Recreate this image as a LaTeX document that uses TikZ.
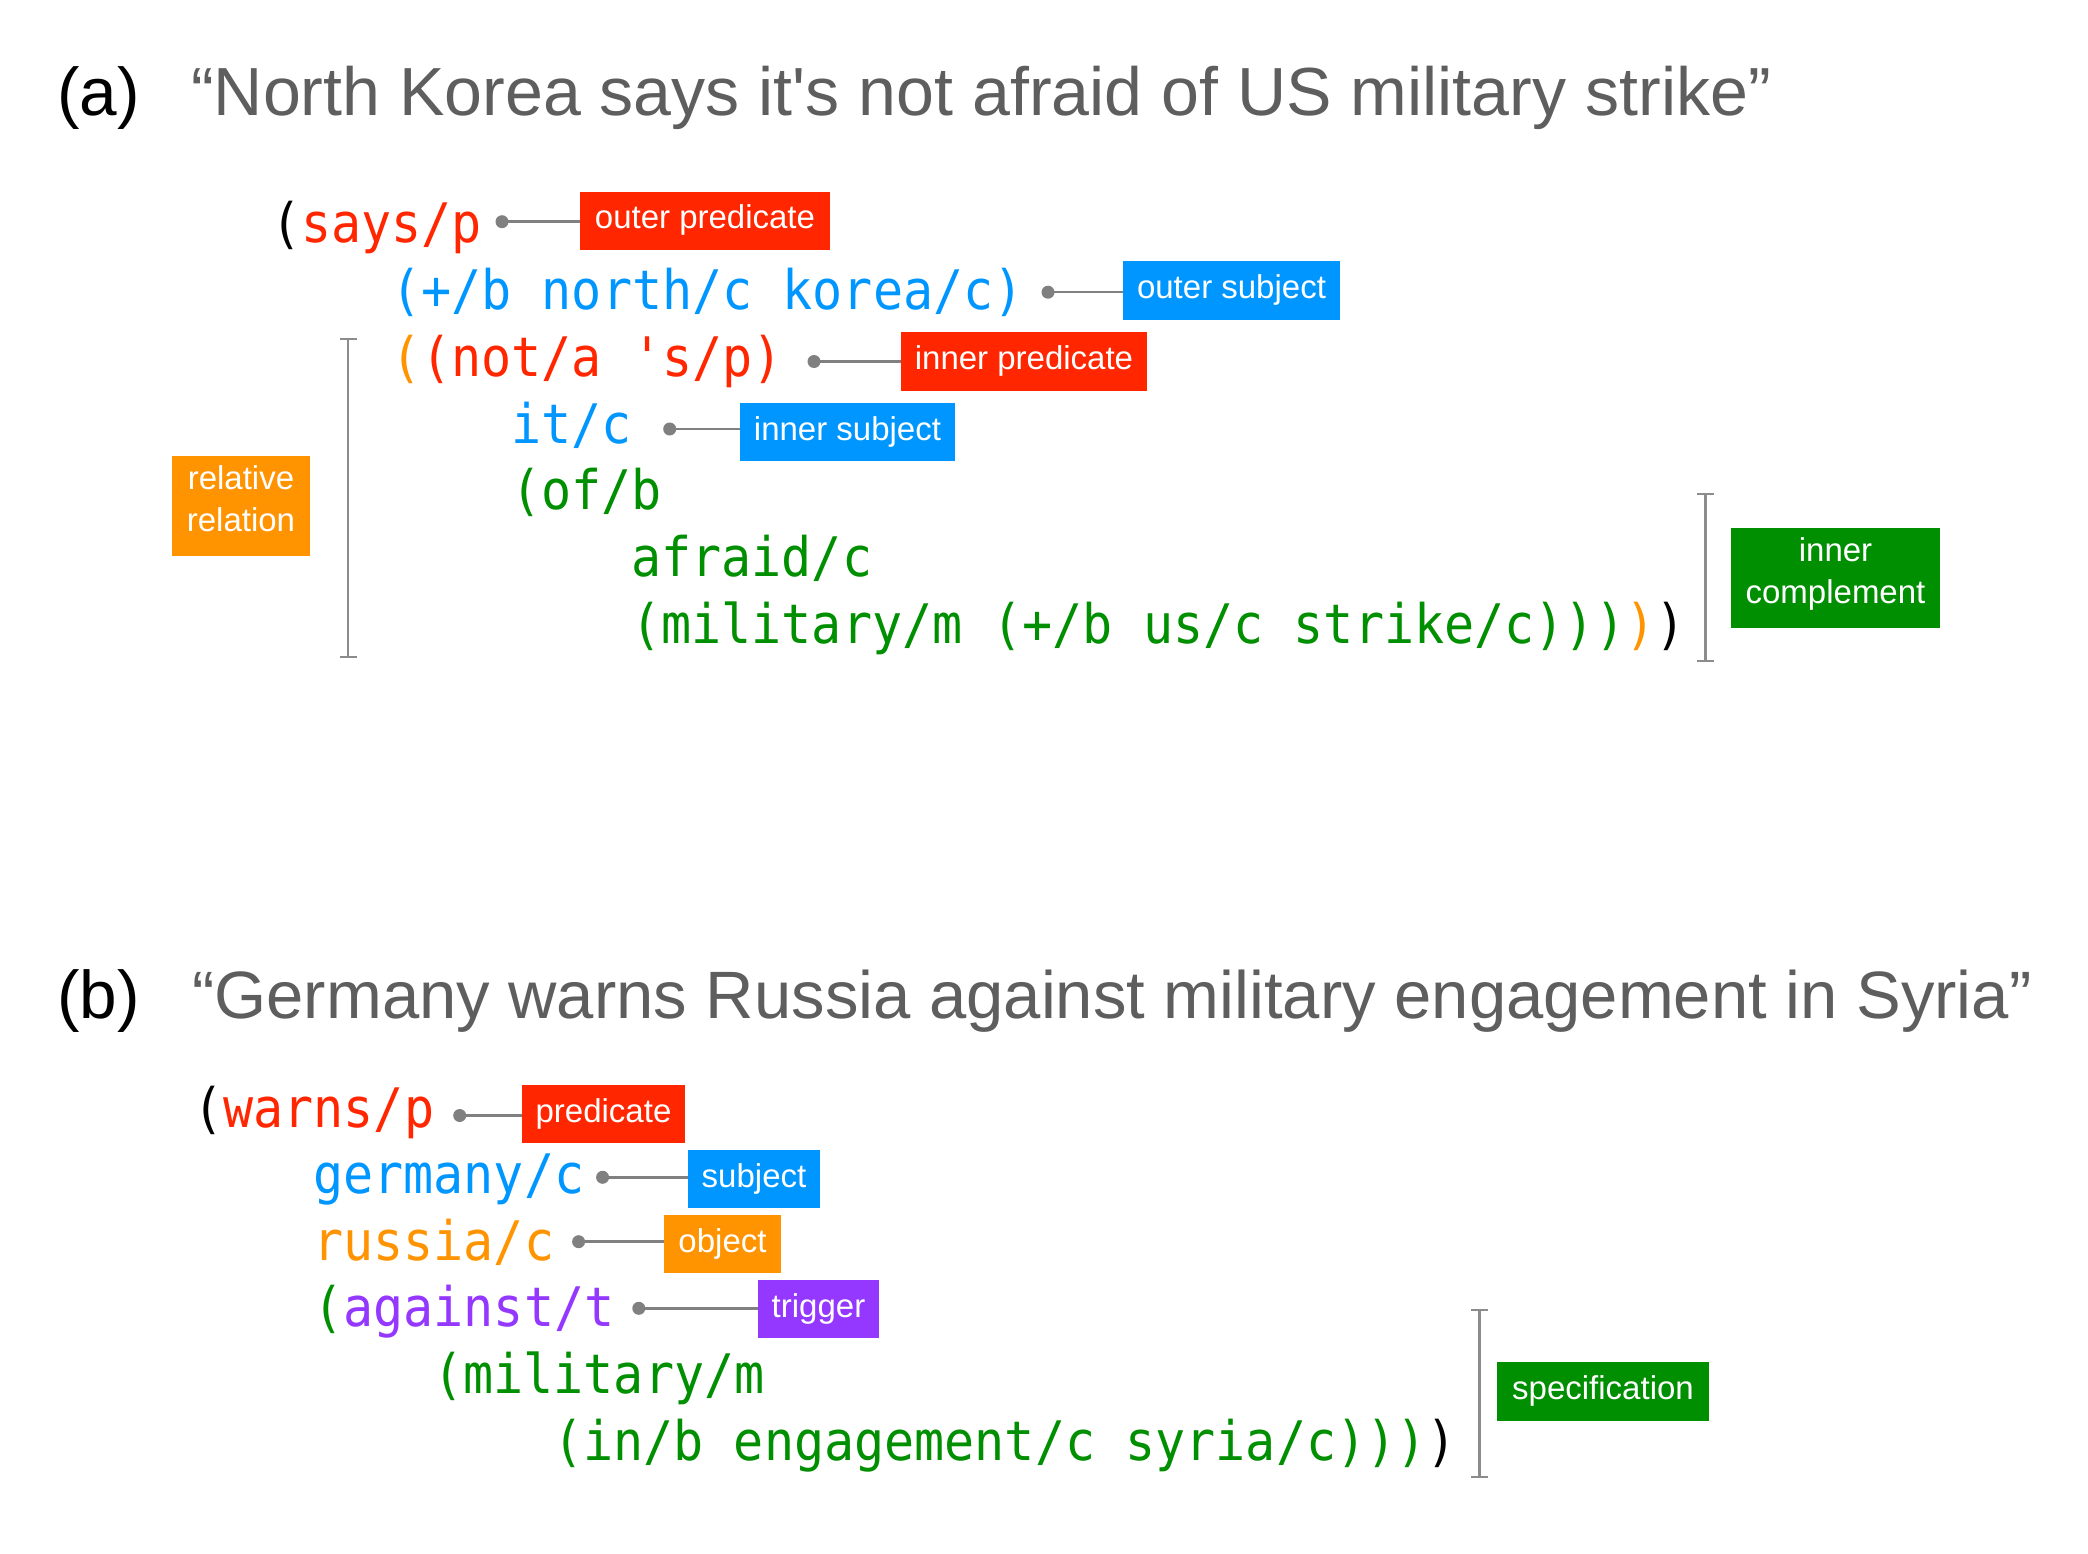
\documentclass[tikz,border=0pt]{standalone}
\usepackage{fontspec}
\newfontfamily\hel{Liberation Sans}
\newfontfamily\codefont[FakeStretch=0.918]{DejaVu Sans Mono}
\definecolor{kred}{HTML}{FF2600}
\definecolor{kblue}{HTML}{0096FF}
\definecolor{korange}{HTML}{FF9300}
\definecolor{kgreen}{HTML}{008F00}
\definecolor{kpurple}{HTML}{9437FF}
\definecolor{ktitle}{HTML}{5E5E5E}
\definecolor{kgray}{HTML}{808080}
\definecolor{kbrk}{HTML}{8C8C8C}
\begin{document}
\begin{tikzpicture}[x=1pt,y=-1pt,
  code/.style={anchor=base west, inner sep=0pt, font=\codefont\fontsize{54.5}{60}\selectfont},
  title/.style={anchor=base west, inner sep=0pt, font=\hel\fontsize{67.5}{80}\selectfont, text=ktitle},
  lbox/.style={inner sep=0pt, text=white, font=\hel\fontsize{33}{41.7}\selectfont, text height=24pt, text depth=8pt},
  ltext/.style={inner sep=0pt, text=white, align=center, font=\hel\fontsize{33}{41.7}\selectfont},
  conn/.style={draw=kgray, line width=2.5pt},
  brk/.style={draw=kbrk, line width=2.5pt}]
\useasboundingbox (0,0) rectangle (2088,1554);
\fill[white] (0,0) rectangle (2088,1554);

% titles
\node[title, text=black] (la) at (57,116) {(a)};
\node[title, font=\hel\fontsize{68.1}{80}\selectfont] (ta) at (191,116) {“North Korea says it's not afraid of US military strike”};
\node[title, text=black] (lb) at (57,1018) {(b)};
\node[title, font=\hel\fontsize{67}{80}\selectfont] (tb) at (192,1018) {“Germany warns Russia against military engagement in Syria”};

% code (a)
\node[code] (a1) at (271,242.7) {(\textcolor{kred}{says/p}};
\node[code, text=kblue] (a2) at (391,309.5) {(+/b north/c korea/c)};
\node[code] (a3) at (391,376.3) {\textcolor{korange}{(}\textcolor{kred}{(not/a 's/p)}};
\node[code, text=kblue] (a4) at (511,443.1) {it/c};
\node[code, text=kgreen] (a5) at (511,509.9) {(of/b};
\node[code, text=kgreen] (a6) at (631,576.7) {afraid/c};
\node[code] (a7) at (631,643.5) {\textcolor{kgreen}{(military/m (+/b us/c strike/c)))}\textcolor{korange}{)})};

% labels (a)
\node[lbox, fill=kred, minimum width=250pt, minimum height=58pt] (op) at (705,221) {outer predicate};
\node[lbox, fill=kblue, minimum width=217pt, minimum height=59pt] (os) at (1231.5,290.5) {outer subject};
\node[lbox, fill=kred, minimum width=246pt, minimum height=59pt] (ip) at (1024,361.5) {inner predicate};
\node[lbox, fill=kblue, minimum width=215pt, minimum height=58pt] (is) at (847.5,432) {inner subject};
\node[lbox, fill=korange, minimum width=138pt, minimum height=100pt] (rr) at (241,506) {};
\node[ltext] (rrt) at ([yshift=7pt]rr.center) {relative\\relation};
\node[lbox, fill=kgreen, minimum width=209pt, minimum height=100pt] (ic) at (1835.5,578) {};
\node[ltext] (ict) at ([yshift=4pt]ic.center) {inner\\complement};

% connectors (a)
\coordinate (d1) at (502,221.7);
\coordinate (d2) at (1048,292.2);
\coordinate (d3) at (814,361.5);
\coordinate (d4) at (669.7,429);
\foreach \d/\b in {d1/op,d2/os,d3/ip,d4/is}{
  \draw[conn] (\d) -- (\d -| \b.west);
  \fill[kgray] (\d) circle (6.5pt);
}

% brackets (a)
\draw[brk] (348,339) -- (348,657);
\draw[brk] (339.5,339) -- (356.5,339);
\draw[brk] (339.5,657) -- (356.5,657);
\draw[brk] (1705.5,494) -- (1705.5,661);
\draw[brk] (1697,494) -- (1714,494);
\draw[brk] (1697,661) -- (1714,661);

% code (b)
\node[code] (b1) at (193,1127) {(\textcolor{kred}{warns/p}};
\node[code, text=kblue] (b2) at (313,1193.6) {germany/c};
\node[code, text=korange] (b3) at (313,1260.2) {russia/c};
\node[code] (b4) at (313,1326.8) {\textcolor{kgreen}{(}\textcolor{kpurple}{against/t}};
\node[code, text=kgreen] (b5) at (433,1393.4) {(military/m};
\node[code] (b6) at (553,1460) {\textcolor{kgreen}{(in/b engagement/c syria/c)))})};

% labels (b)
\node[lbox, fill=kred, minimum width=163pt, minimum height=58pt] (pr) at (603.5,1114) {predicate};
\node[lbox, fill=kblue, minimum width=132pt, minimum height=58pt] (sb) at (754,1179) {subject};
\node[lbox, fill=korange, minimum width=117pt, minimum height=58pt] (ob) at (722.5,1244) {object};
\node[lbox, fill=kpurple, minimum width=121pt, minimum height=58pt] (tr) at (818.5,1309) {trigger};
\node[lbox, fill=kgreen, minimum width=212pt, minimum height=59pt] (sp) at (1603,1391.5) {specification};

% connectors (b)
\coordinate (e1) at (459.7,1115.5);
\coordinate (e2) at (602.6,1177.3);
\coordinate (e3) at (578.6,1241.7);
\coordinate (e4) at (638.8,1308.3);
\foreach \d/\b in {e1/pr,e2/sb,e3/ob,e4/tr}{
  \draw[conn] (\d) -- (\d -| \b.west);
  \fill[kgray] (\d) circle (6.5pt);
}

% bracket (b)
\draw[brk] (1479.5,1310) -- (1479.5,1477);
\draw[brk] (1471,1310) -- (1488,1310);
\draw[brk] (1471,1477) -- (1488,1477);
\end{tikzpicture}
\end{document}
